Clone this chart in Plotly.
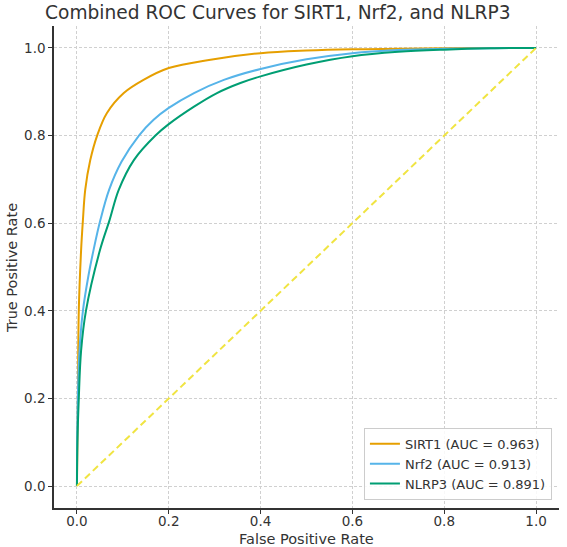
import plotly.graph_objects as go

# ---- data ----
sirt1_fpr = [0.0, 0.001, 0.002, 0.004, 0.009, 0.013, 0.018, 0.029, 0.044, 0.065, 0.102, 0.145, 0.200, 0.291, 0.400, 0.500, 0.600, 0.700, 0.800, 0.900, 1.0]
sirt1_tpr = [0.0, 0.10, 0.20, 0.40, 0.538, 0.607, 0.676, 0.744, 0.800, 0.851, 0.897, 0.927, 0.954, 0.973, 0.988, 0.994, 0.997, 0.998, 0.999, 1.0, 1.0]

nrf2_fpr = [0.0, 0.001, 0.005, 0.013, 0.025, 0.036, 0.051, 0.070, 0.097, 0.135, 0.167, 0.200, 0.255, 0.320, 0.400, 0.500, 0.600, 0.700, 0.800, 0.900, 1.0]
nrf2_tpr = [0.0, 0.15, 0.30, 0.40, 0.480, 0.538, 0.607, 0.676, 0.740, 0.800, 0.836, 0.863, 0.897, 0.927, 0.952, 0.974, 0.988, 0.995, 0.998, 0.9995, 1.0]

nlrp3_fpr = [0.0, 0.001, 0.004, 0.009, 0.0196, 0.050, 0.071, 0.091, 0.124, 0.171, 0.200, 0.255, 0.305, 0.356, 0.400, 0.500, 0.600, 0.700, 0.800, 0.900, 1.0]
nlrp3_tpr = [0.0, 0.10, 0.20, 0.309, 0.40, 0.538, 0.607, 0.676, 0.744, 0.800, 0.826, 0.866, 0.897, 0.920, 0.935, 0.962, 0.981, 0.991, 0.996, 0.999, 1.0]

diag = [0.0, 1.0]

names = ["SIRT1 (AUC = 0.963)", "Nrf2 (AUC = 0.913)", "NLRP3 (AUC = 0.891)"]
tick_vals = [0.0, 0.2, 0.4, 0.6, 0.8, 1.0]
tick_text = ["0.0", "0.2", "0.4", "0.6", "0.8", "1.0"]

colors = ["#E69F00", "#56B4E9", "#009E73"]
FONT = "DejaVu Sans"

fig = go.Figure()
for fx, ty, nm, c in [(sirt1_fpr, sirt1_tpr, names[0], colors[0]),
                      (nrf2_fpr, nrf2_tpr, names[1], colors[1]),
                      (nlrp3_fpr, nlrp3_tpr, names[2], colors[2])]:
    fig.add_trace(go.Scatter(x=fx, y=ty, mode="lines", name=nm,
                             line=dict(color=c, width=2, shape="spline", smoothing=1.0)))

fig.add_trace(go.Scatter(x=diag, y=diag, mode="lines", showlegend=False,
                         line=dict(color="#F0E442", width=2, dash="7px,4px")))

axis_common = dict(
    range=[-0.05, 1.05], tickvals=tick_vals, ticktext=tick_text, automargin=False,
    showgrid=True, gridcolor="#d0d0d0", griddash="3px,2px", gridwidth=0.8,
    zeroline=False, showline=True, linecolor="#333333", linewidth=1.5,
    ticks="outside", ticklen=4, tickcolor="#333333", tickwidth=1.2,
    tickfont=dict(family=FONT, size=13.5, color="#333333"),
)

fig.update_layout(
    width=567, height=547,
    margin=dict(l=54, r=8, t=26, b=39, autoexpand=False),
    paper_bgcolor="white", plot_bgcolor="white",
    font=dict(family=FONT, color="#333333"),
    title=dict(text="Combined ROC Curves for SIRT1, Nrf2, and NLRP3",
               font=dict(family=FONT, size=18.6, color="#333333"),
               x=0.49, xanchor="center", xref="container", yref="container",
               y=0.977, yanchor="middle"),
    xaxis=dict(**axis_common, ticklabelstandoff=-4),
    yaxis=axis_common,
    legend=dict(x=0.986, y=0.017, xanchor="right", yanchor="bottom",
                bgcolor="rgba(255,255,255,0.85)", bordercolor="#cccccc", borderwidth=1,
                font=dict(family=FONT, size=13, color="#333333"),
                tracegroupgap=0, itemwidth=30),
    annotations=[
        dict(text="False Positive Rate", xref="paper", yref="paper", x=0.5, y=-0.064,
             xanchor="center", yanchor="middle", showarrow=False,
             font=dict(family=FONT, size=14.5, color="#333333")),
        dict(text="True Positive Rate", xref="paper", yref="paper", x=-0.083, y=0.498,
             xanchor="center", yanchor="middle", showarrow=False, textangle=-90,
             font=dict(family=FONT, size=14.5, color="#333333")),
    ],
)

fig.write_html("out.html")
